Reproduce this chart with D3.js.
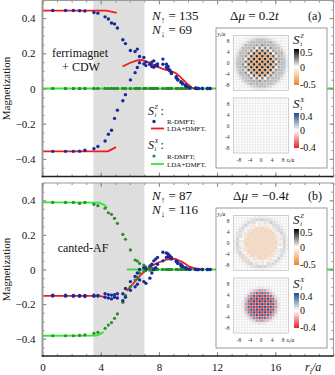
<!DOCTYPE html>
<html>
<head>
<meta charset="utf-8">
<script src="https://cdnjs.cloudflare.com/ajax/libs/d3/7.8.5/d3.min.js"></script>
<style>
  body { margin: 0; background: #fff; }
  svg { display: block; font-family: "Liberation Serif", "DejaVu Serif", serif; }
</style>
</head>
<body>
<div id="chart"></div>
<script>
// lattice shells r^2 (sites sit at half-integer coords of a 20x20 lattice)
const shellR2 = [0.5, 2.5, 4.5, 6.5, 8.5, 12.5, 14.5, 18.5, 20.5, 22.5,
  24.5, 26.5, 30.5, 32.5, 36.5, 40.5, 42.5, 44.5, 48.5, 50.5,
  54.5, 56.5, 58.5, 60.5, 62.5, 68.5, 72.5, 74.5, 76.5, 78.5,
  84.5, 86.5, 90.5, 92.5, 96.5, 98.5, 102.5, 110.5, 112.5, 114.5,
  120.5, 128.5, 132.5, 144.5, 146.5, 162.5, 180.5];

// panel (a): R-DMFT S^z per shell, sublattice A / B
const szA_a = [0.443, 0.443, 0.443, 0.442, 0.440, 0.432, 0.428, 0.407, 0.395, 0.372,
  0.367, 0.344, 0.277, 0.255, 0.216, 0.210, 0.224, 0.182, 0.176, 0.150,
  0.138, 0.150, 0.157, 0.130, 0.140, 0.167, 0.138, 0.125, 0.106, 0.090,
  0.067, 0.052, 0.039, 0.030, 0.020, 0.012, 0.005, 0.002, 0.001, 0,
  0, 0, 0, 0, 0, 0, 0];
const szB_a = [-0.357, -0.357, -0.357, -0.356, -0.351, -0.342, -0.329, -0.298, -0.260, -0.237,
  -0.170, -0.123, -0.070, -0.035, 0.049, 0.090, 0.119, 0.147, 0.140, 0.130,
  0.138, 0.125, 0.121, 0.133, 0.128, 0.138, 0.120, 0.110, 0.100, 0.085,
  0.060, 0.048, 0.035, 0.025, 0.015, 0.010, 0.004, 0.001, 0, 0,
  0, 0, 0, 0, 0, 0, 0];
// panel (a): S^x is zero everywhere
const sxA_a = [0, 0, 0, 0, 0, 0, 0, 0, 0, 0, 0, 0, 0, 0, 0, 0, 0, 0, 0, 0, 0, 0, 0, 0,
  0, 0, 0, 0, 0, 0, 0, 0, 0, 0, 0, 0, 0, 0, 0, 0, 0, 0, 0, 0, 0, 0, 0];
const sxB_a = sxA_a;

// panel (b)
const szA_b = [-0.148, -0.149, -0.150, -0.150, -0.150, -0.148, -0.150, -0.140, -0.145, -0.148,
  -0.145, -0.140, -0.140, -0.110, -0.070, -0.040, -0.020, 0.000, 0.010, 0.005,
  0.020, 0.030, 0.050, 0.060, 0.070, 0.100, 0.095, 0.090, 0.080, 0.070,
  0.050, 0.040, 0.030, 0.020, 0.010, 0.005, 0.002, 0.001, 0, 0,
  0, 0, 0, 0, 0, 0, 0];
const szB_b = [-0.153, -0.154, -0.155, -0.155, -0.156, -0.155, -0.153, -0.160, -0.165, -0.170,
  -0.160, -0.165, -0.180, -0.160, -0.120, -0.100, -0.085, -0.060, -0.070, -0.080,
  -0.050, -0.020, 0.000, 0.010, 0.030, 0.050, 0.070, 0.075, 0.070, 0.060,
  0.045, 0.035, 0.020, 0.015, 0.010, 0.005, 0.002, 0.001, 0, 0,
  0, 0, 0, 0, 0, 0, 0];
const sxA_b = [0.388, 0.388, 0.388, 0.382, 0.388, 0.377, 0.369, 0.354, 0.328, 0.319,
  0.296, 0.267, 0.203, 0.175, 0.113, 0.055, 0.049, 0.035, 0.026, 0.015,
  0.010, 0.006, 0.004, 0.002, 0.001, 0, 0, 0, 0, 0,
  0, 0, 0, 0, 0, 0, 0, 0, 0, 0, 0, 0, 0, 0, 0, 0, 0];
const sxB_b = [-0.383, -0.383, -0.383, -0.381, -0.378, -0.369, -0.363, -0.340, -0.321, -0.307,
  -0.282, -0.257, -0.190, -0.150, -0.100, -0.061, -0.045, -0.020, -0.010, -0.006,
  -0.004, -0.002, -0.001, 0, 0, 0, 0, 0, 0, 0,
  0, 0, 0, 0, 0, 0, 0, 0, 0, 0, 0, 0, 0, 0, 0, 0, 0];

// LDA+DMFT curves [r, m]
const ldaZ_a = [
  [[0, 0.443], [4.4, 0.443], [5.1, 0.43]],
  [[0, -0.357], [4.5, -0.357], [5.05, -0.333]],
  [[5.5, 0.125], [6.0, 0.145], [6.5, 0.16], [6.8, 0.163], [7.3, 0.148], [7.8, 0.127],
   [8.3, 0.11], [8.9, 0.097], [9.2, 0.085], [9.5, 0.063], [9.9, 0.03], [10.3, 0.003], [10.6, 0]]
];
const ldaX_a = [[[0, 0], [20, 0]]];
const ldaZ_b = [
  [[0, -0.152], [3.9, -0.153], [4.3, -0.16]],
  [[5.78, -0.124], [6.2, -0.085], [6.7, -0.035], [7.1, -0.005], [7.5, 0.02], [7.8, 0.035],
   [8.5, 0.057], [9.1, 0.062], [9.65, 0.042], [10.1, 0.016], [10.6, 0.003], [11.0, 0]]
];
const ldaX_b = [
  [[0, 0.388], [3.9, 0.387], [4.2, 0.375], [4.45, 0.357]],
  [[0, -0.383], [3.7, -0.382], [4.0, -0.372], [4.2, -0.36]],
  [[5.8, 0], [20, 0]]
];

const band = [3.5, 7.0];
const xTicks = [0, 4, 8, 12, 16];
const yTicks = [-0.4, -0.2, 0, 0.2, 0.4];
const mapTicks = [-8, -4, 0, 4, 8];

const C_BLUE = '#1a2a9a', C_GDOT = '#2a8c2a', C_RED = '#ee1c1c', C_GLINE = '#33e633';
const C_AX = '#8a8a8a';

const svg = d3.select('#chart').append('svg').attr('width', 335).attr('height', 375);

const x = d3.scaleLinear().domain([0, 20]).range([42.5, 333.5]);

// ---- small text helpers ----
function mathText(g, px, py, size, parts, anchor) {
  let t = g.append('text').attr('x', px).attr('y', py).attr('font-size', size).attr('fill', '#111');
  if (anchor) t.attr('text-anchor', anchor);
  parts.forEach(p => {
    let ts = t.append('tspan').text(p.t);
    if (p.it) ts.attr('font-style', 'italic');
    if (p.dy) ts.attr('dy', p.dy);
    if (p.fs) ts.attr('font-size', p.fs);
  });
  return t;
}

// S with stacked super (component) and sub (i) scripts
function spinLabel(g, px, py, size, comp, colon) {
  mathText(g, px, py, size, [{ t: 'S', it: 1 }]);
  mathText(g, px + size * 0.55, py - size * 0.5, size * 0.5, [{ t: comp, it: 1 }]);
  mathText(g, px + size * 0.55, py + size * 0.13, size * 0.5, [{ t: 'i', it: 1 }]);
  if (colon) mathText(g, px + size * 1.05, py, size, [{ t: ':' }]);
}

// ---- one magnetization panel ----
function drawPanel(p) {
  let y = d3.scaleLinear().domain([-0.5, 0.5]).range([p.bottom, p.top]);
  let g = svg.append('g');

  // shaded crossover band
  g.append('rect')
    .attr('x', x(band[0])).attr('y', p.top)
    .attr('width', x(band[1]) - x(band[0])).attr('height', p.bottom - p.top)
    .attr('fill', '#dedede');

  let line = d3.line().x(d => x(d[0])).y(d => y(d[1]));

  // LDA+DMFT lines
  p.ldaX.forEach(seg => g.append('path').attr('d', line(seg))
    .attr('fill', 'none').attr('stroke', C_GLINE).attr('stroke-width', 1.8));
  p.ldaZ.forEach(seg => g.append('path').attr('d', line(seg))
    .attr('fill', 'none').attr('stroke', C_RED).attr('stroke-width', 1.8));

  // R-DMFT points, both sublattices
  let pts = (A, B) => shellR2.flatMap((r2, i) => [[Math.sqrt(r2), A[i]], [Math.sqrt(r2), B[i]]]);
  g.selectAll(null).data(pts(p.sxA, p.sxB)).join('circle')
    .attr('cx', d => x(d[0])).attr('cy', d => y(d[1])).attr('r', 1.6).attr('fill', C_GDOT);
  g.selectAll(null).data(pts(p.szA, p.szB)).join('circle')
    .attr('cx', d => x(d[0])).attr('cy', d => y(d[1])).attr('r', 1.7).attr('fill', C_BLUE);

  // axes, ticks pointing inward
  let xMinor = d3.range(0, 20.01, 1), yMinor = d3.range(-0.5, 0.501, 0.05);
  let addAxis = (ax, tx, ty) => {
    let a = g.append('g').attr('transform', 'translate(' + tx + ',' + ty + ')').call(ax);
    a.select('.domain').remove();
    a.selectAll('line').attr('stroke', C_AX);
    return a;
  };
  addAxis(d3.axisLeft(y).tickValues(yMinor).tickSize(-2).tickFormat(''), x.range()[0], 0);
  let yl = addAxis(d3.axisLeft(y).tickValues(yTicks).tickSize(-4).tickPadding(7)
    .tickFormat(d => d === 0 ? '0' : d3.format('.1f')(d)), x.range()[0], 0);
  yl.selectAll('text').attr('font-size', 11).attr('font-family', 'Liberation Serif').attr('fill', '#111');
  addAxis(d3.axisRight(y).tickValues(yMinor).tickSize(-2).tickFormat(''), x.range()[1], 0);
  addAxis(d3.axisRight(y).tickValues(yTicks).tickSize(-4).tickFormat(''), x.range()[1], 0);
  addAxis(d3.axisTop(x).tickValues(xMinor).tickSize(-2).tickFormat(''), 0, p.top);
  addAxis(d3.axisTop(x).tickValues(xTicks).tickSize(-4).tickFormat(''), 0, p.top);
  addAxis(d3.axisBottom(x).tickValues(xMinor).tickSize(-2).tickFormat(''), 0, p.bottom);
  let xb = addAxis(d3.axisBottom(x).tickValues(xTicks).tickSize(-4).tickPadding(7)
    .tickFormat(p.xLabels ? d3.format('d') : ''), 0, p.bottom);
  xb.selectAll('text').attr('font-size', 11).attr('font-family', 'Liberation Serif').attr('fill', '#111');

  // frame
  let [x0, x1] = x.range();
  g.append('line').attr('x1', x0).attr('x2', x0).attr('y1', p.top).attr('y2', p.bottom)
    .attr('stroke', '#9a9a9a').attr('stroke-width', 2);
  g.append('line').attr('x1', x1).attr('x2', x1).attr('y1', p.top).attr('y2', p.bottom)
    .attr('stroke', '#9a9a9a').attr('stroke-width', 1);
  g.append('line').attr('x1', x0).attr('x2', x1).attr('y1', p.top).attr('y2', p.top)
    .attr('stroke', '#9a9a9a').attr('stroke-width', 1);
  g.append('line').attr('x1', x0 - 1).attr('x2', x1).attr('y1', p.bottom).attr('y2', p.bottom)
    .attr('stroke', '#222').attr('stroke-width', 1.5);

  // y title
  g.append('text').attr('transform', 'translate(10,' + ((p.top + p.bottom) / 2) + ') rotate(-90)')
    .attr('text-anchor', 'middle').attr('font-size', 11).attr('fill', '#111').text('Magnetization');

  return { g: g, y: y };
}

// ---- inset with the two real-space maps ----
const zColor = d3.scaleLinear().domain([-0.5, 0, 0.5]).range(['#f5821f', '#ffffff', '#000000']);
const xColor = d3.scaleLinear().domain([-0.4, 0, 0.4]).range(['#e8202a', '#ffffff', '#1c4b88']);
const sites = d3.range(-9.5, 10, 1);

function drawMap(g, L, T, A, B, color) {
  let mx = d3.scaleLinear().domain([-10, 10]).range([L, L + 55]);
  let my = d3.scaleLinear().domain([-10, 10]).range([T + 55, T]);
  let cells = [];
  sites.forEach(sx => sites.forEach(sy => {
    let i = shellR2.indexOf(sx * sx + sy * sy);
    let sub = (Math.floor(sx) + Math.floor(sy)) % 2 === 0;
    cells.push({ sx: sx, sy: sy, v: i < 0 ? 0 : (sub ? A[i] : B[i]) });
  }));
  g.selectAll(null).data(cells).join('rect')
    .attr('x', d => mx(d.sx - 0.5)).attr('y', d => my(d.sy + 0.5))
    .attr('width', mx(1) - mx(0) + 0.05).attr('height', mx(1) - mx(0) + 0.05)
    .attr('fill', d => color(d.v));
  d3.range(-10, 10.1, 1).forEach(k => {
    g.append('line').attr('x1', mx(k)).attr('x2', mx(k)).attr('y1', T).attr('y2', T + 55)
      .attr('stroke', '#d8d8d8').attr('stroke-width', 0.4);
    g.append('line').attr('y1', my(k)).attr('y2', my(k)).attr('x1', L).attr('x2', L + 55)
      .attr('stroke', '#d8d8d8').attr('stroke-width', 0.4);
  });
  g.append('rect').attr('x', L).attr('y', T).attr('width', 55).attr('height', 55)
    .attr('fill', 'none').attr('stroke', '#bbb').attr('stroke-width', 0.6);
  mapTicks.forEach(t => {
    g.append('text').attr('x', L - 4).attr('y', my(t) + 2).attr('text-anchor', 'end')
      .attr('font-size', 5.5).attr('fill', '#333').text(t);
  });
  return mx;
}

function colorBar(g, bx, by, h, color, lo, hi, labels, id) {
  let grad = svg.append('defs').append('linearGradient').attr('id', id)
    .attr('x1', 0).attr('x2', 0).attr('y1', 1).attr('y2', 0);
  [lo, 0, hi].forEach((v, k) => grad.append('stop').attr('offset', k / 2).attr('stop-color', color(v)));
  g.append('rect').attr('x', bx).attr('y', by).attr('width', 5).attr('height', h)
    .attr('fill', 'url(#' + id + ')');
  let s = d3.scaleLinear().domain([lo, hi]).range([by + h - 1, by + 3]);
  [hi, 0, lo].forEach((v, k) => {
    g.append('text').attr('x', bx + 6).attr('y', (k === 1 ? by + h / 2 : s(v)) + 3.5)
      .attr('font-size', 10).attr('fill', '#111').text(labels[k]);
  });
}

function drawInset(ix, iy, d, tag) {
  let g = svg.append('g');
  g.append('rect').attr('x', ix).attr('y', iy).attr('width', 111).attr('height', 140)
    .attr('fill', '#fff').attr('stroke', '#999').attr('stroke-width', 1);
  let L = ix + 17.5;
  drawMap(g, L, iy + 7.5, d.szA, d.szB, zColor);
  let mx = drawMap(g, L, iy + 70, d.sxA, d.sxB, xColor);
  mapTicks.forEach(t => {
    g.append('text').attr('x', mx(t)).attr('y', iy + 133.5).attr('text-anchor', 'middle')
      .attr('font-size', 5.5).attr('fill', '#333').text(t);
  });
  mathText(g, mx(8) + 3.5, iy + 133.5, 5.5, [{ t: 'x', it: 1 }, { t: 'i', it: 1, dy: 1, fs: 4 }, { t: '/a', it: 1, dy: -1 }]);
  mathText(g, ix + 1.5, iy + 8, 5.5, [{ t: 'y', it: 1 }, { t: 'i', it: 1, dy: 1, fs: 4 }, { t: '/a', it: 1, dy: -1 }]);

  spinLabel(g, ix + 77, iy + 16, 13, 'Z', false);
  colorBar(g, ix + 78, iy + 21, 36, zColor, -0.5, 0.5, ['0.5', '0', '-0.5'], 'gz' + tag);
  spinLabel(g, ix + 77, iy + 80, 13, 'X', false);
  colorBar(g, ix + 78, iy + 85, 35, xColor, -0.4, 0.4, ['0.4', '0', '-0.4'], 'gx' + tag);
}

// ---- panel (a) ----
let pa = drawPanel({ top: 0.5, bottom: 176.5, szA: szA_a, szB: szB_a, sxA: sxA_a, sxB: sxB_a,
  ldaZ: ldaZ_a, ldaX: ldaX_a, xLabels: false });
drawInset(216, 28, { szA: szA_a, szB: szB_a, sxA: sxA_a, sxB: sxB_a }, 'a');

mathText(svg, 152, 20, 13, [{ t: 'N', it: 1 }, { t: '\u2191', dy: 3, fs: 9 }, { t: ' = 135', dy: -3 }]);
mathText(svg, 152, 34, 13, [{ t: 'N', it: 1 }, { t: '\u2193', dy: 3, fs: 9 }, { t: ' = 69', dy: -3 }]);
mathText(svg, 230, 20, 13, [{ t: '\u0394' }, { t: '\u03bc', it: 1 }, { t: ' = 0.2' }, { t: 't', it: 1 }]);
mathText(svg, 308, 20, 12, [{ t: '(a)' }]);
mathText(svg, 80, 57, 12, [{ t: 'ferrimagnet' }], 'middle');
mathText(svg, 81, 71, 12, [{ t: '+ CDW' }], 'middle');

// legend
spinLabel(svg, 148, 115, 12, 'Z', true);
svg.append('circle').attr('cx', 154).attr('cy', 121.5).attr('r', 1.7).attr('fill', C_BLUE);
mathText(svg, 167, 123.5, 7, [{ t: 'R-DMFT;' }]);
svg.append('line').attr('x1', 151).attr('x2', 164).attr('y1', 128.5).attr('y2', 128.5)
  .attr('stroke', C_RED).attr('stroke-width', 1.8);
mathText(svg, 167, 131, 7, [{ t: 'LDA+DMFT.' }]);
spinLabel(svg, 148, 149, 12, 'X', true);
svg.append('circle').attr('cx', 154).attr('cy', 156).attr('r', 1.6).attr('fill', C_GDOT);
mathText(svg, 167, 158.5, 7, [{ t: 'R-DMFT;' }]);
svg.append('line').attr('x1', 151).attr('x2', 164).attr('y1', 164).attr('y2', 164)
  .attr('stroke', C_GLINE).attr('stroke-width', 1.8);
mathText(svg, 167, 166.5, 7, [{ t: 'LDA+DMFT.' }]);

// ---- panel (b) ----
let pb = drawPanel({ top: 183, bottom: 356, szA: szA_b, szB: szB_b, sxA: sxA_b, sxB: sxB_b,
  ldaZ: ldaZ_b, ldaX: ldaX_b, xLabels: true });
drawInset(216, 208, { szA: szA_b, szB: szB_b, sxA: sxA_b, sxB: sxB_b }, 'b');

mathText(svg, 152, 200, 13, [{ t: 'N', it: 1 }, { t: '\u2191', dy: 3, fs: 9 }, { t: ' = 87', dy: -3 }]);
mathText(svg, 152, 214, 13, [{ t: 'N', it: 1 }, { t: '\u2193', dy: 3, fs: 9 }, { t: ' = 116', dy: -3 }]);
mathText(svg, 233, 200, 13, [{ t: '\u0394' }, { t: '\u03bc', it: 1 }, { t: ' = \u22120.4' }, { t: 't', it: 1 }]);
mathText(svg, 308, 200, 12, [{ t: '(b)' }]);
mathText(svg, 83, 252, 12, [{ t: 'canted-AF' }], 'middle');

// x title
mathText(svg, 305, 371, 12, [{ t: 'r', it: 1 }, { t: 'i', it: 1, dy: 3, fs: 8 }, { t: '/a', it: 1, dy: -3 }]);
</script>
</body>
</html>
